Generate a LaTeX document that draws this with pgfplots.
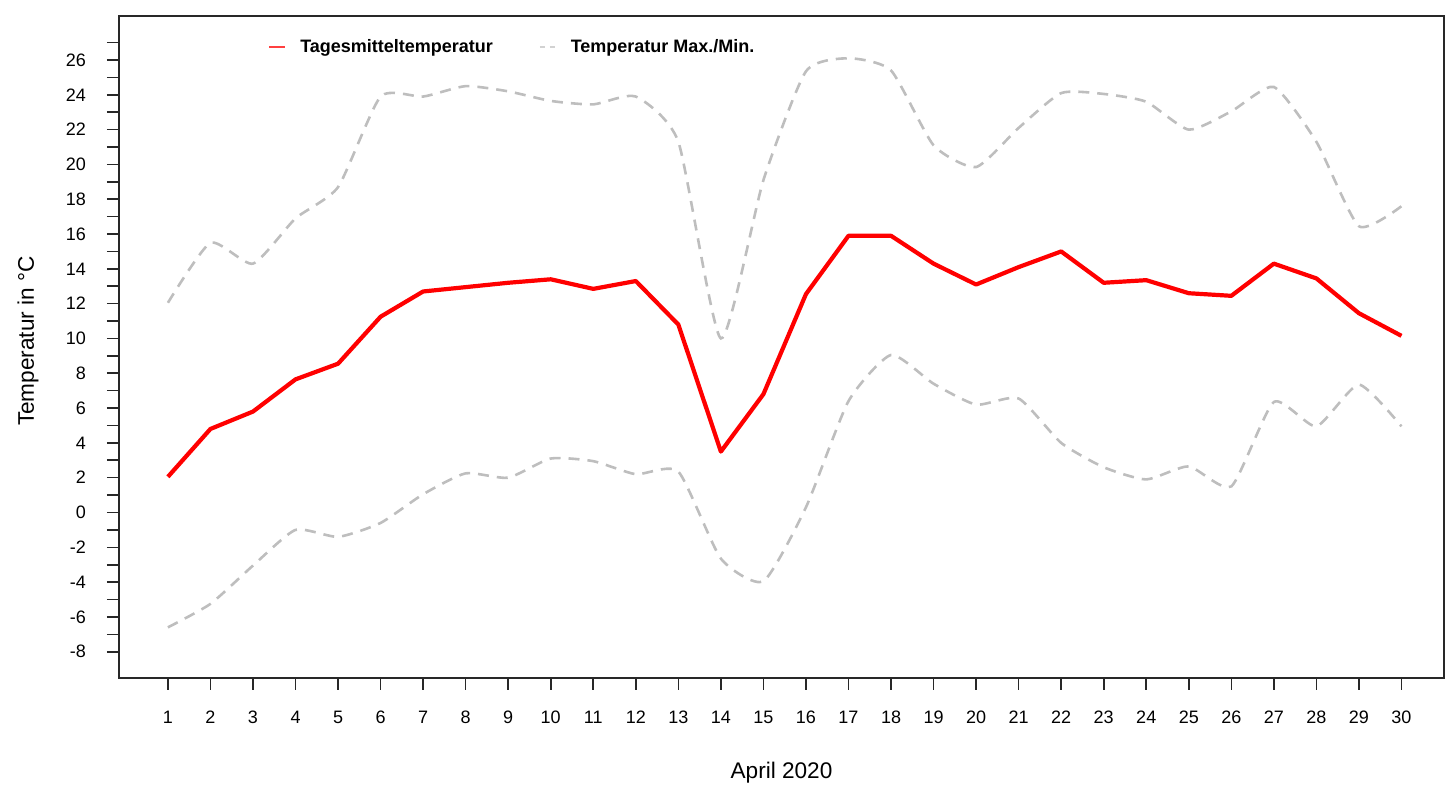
\documentclass[border=0pt]{standalone}
\usepackage{pgfplots}
\pgfplotsset{compat=1.18}
\usepackage{pgfplotstable}
\usepackage{fontspec}
\setmainfont{Liberation Sans}
\definecolor{maxmin}{RGB}{190,190,190}
\definecolor{axcol}{RGB}{40,40,40}
\pgfplotstableread{
day mean max min
1 2.05 12.05 -6.6
2 4.8 15.5 -5.25
3 5.8 14.3 -3.05
4 7.65 16.9 -1.0
5 8.55 18.7 -1.4
6 11.25 23.9 -0.6
7 12.7 23.9 1.05
8 12.95 24.5 2.25
9 13.2 24.2 2.0
10 13.4 23.65 3.1
11 12.85 23.45 2.95
12 13.3 23.9 2.2
13 10.8 21.3 2.35
14 3.5 10.0 -2.65
15 6.8 19.1 -3.95
16 12.55 25.35 0.3
17 15.9 26.1 6.4
18 15.9 25.4 9.05
19 14.3 21.1 7.4
20 13.1 19.85 6.2
21 14.1 22.1 6.55
22 15.0 24.1 4.0
23 13.2 24.05 2.6
24 13.35 23.6 1.9
25 12.6 22.0 2.65
26 12.45 23.05 1.5
27 14.3 24.45 6.35
28 13.45 21.3 4.95
29 11.45 16.45 7.35
30 10.15 17.6 4.95
}\temps
\begin{document}
\begin{tikzpicture}
\useasboundingbox (-59.5pt,-54pt) rectangle (663.5pt,339pt);
\begin{axis}[
  at={(0,0)}, anchor=south west,
  scale only axis, width=662.5pt, height=331pt,
  xmin=-0.15, xmax=31.0, ymin=-9.51, ymax=28.53,
  axis line style={axcol, line width=0.8pt},
  xtick={1,...,30},
  ytick={-8,-6,...,26},
  minor ytick={-7,-5,...,27},
  tick align=outside,
  major tick length=6pt, minor tick length=6pt,
  tick style={axcol, line width=0.8pt},
  xtick pos=bottom, ytick pos=left,
  /pgf/number format/assume math mode=true,
  ticklabel style={font=\fontsize{9}{10}\selectfont, text=black},
  xticklabel style={yshift=-7pt},
  yticklabel style={xshift=-7pt},
  xlabel={April 2020},
  ylabel={Temperatur in °C},
  label style={font=\fontsize{11.3}{13}\selectfont},
  xlabel style={at={(axis description cs:0.5,-0.1435)}, anchor=center},
  ylabel style={at={(axis description cs:-0.0687,0.509)}, anchor=center},
  legend columns=2,
  legend style={draw=none, fill=none, at={(axis description cs:0.1125,0.953)}, anchor=west,
    font=\fontsize{9}{10}\selectfont\bfseries, inner sep=0pt, column sep=0pt,
    nodes={inner sep=0pt},
    /tikz/every odd column/.append style={column sep=7pt},
    /tikz/every even column/.append style={column sep=23pt}},
  legend cell align=left,
  legend image code/.code={\draw[#1] (0pt,0pt) -- (8pt,0pt);},
]
\addlegendimage{red!75, line width=0.9pt}
\addlegendentry{Tagesmitteltemperatur}
\addlegendimage{maxmin!70, line width=0.9pt, dash pattern=on 2.6pt off 2.4pt}
\addlegendentry{Temperatur Max./Min.}
\addplot[forget plot, maxmin, line width=1.3pt, dash pattern=on 5.5pt off 4pt, smooth, tension=0.35] table[x=day, y=max] {\temps};
\addplot[forget plot, maxmin, line width=1.3pt, dash pattern=on 5.5pt off 4pt, smooth, tension=0.35] table[x=day, y=min] {\temps};
\addplot[forget plot, red, line width=2.1pt, line join=round] table[x=day, y=mean] {\temps};
\end{axis}
\end{tikzpicture}
\end{document}
